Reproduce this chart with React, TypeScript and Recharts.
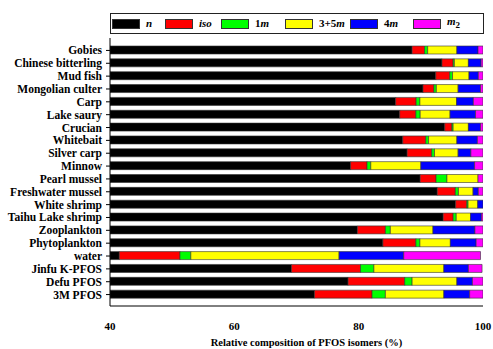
import React from "react";
import { BarChart, Bar, XAxis, YAxis } from "recharts";

const categories = [
  "Gobies", "Chinese bitterling", "Mud fish", "Mongolian culter", "Carp",
  "Lake saury", "Crucian", "Whitebait", "Silver carp", "Minnow",
  "Pearl mussel", "Freshwater mussel", "White shrimp", "Taihu Lake shrimp",
  "Zooplankton", "Phytoplankton", "water", "Jinfu K-PFOS", "Defu PFOS", "3M PFOS",
];
const nVals = [88.6, 93.4, 92.4, 90.35, 85.95, 86.6, 93.85, 87.1, 87.8, 78.7, 89.9, 92.65, 95.6, 93.6, 79.8, 83.9, 41.5, 69.2, 78.3, 72.9];
const isoVals = [2.0, 1.8, 2.25, 1.75, 3.3, 2.6, 1.15, 3.7, 3.95, 2.65, 2.55, 2.9, 1.8, 1.6, 4.5, 5.3, 9.75, 11.1, 9.1, 9.25];
const m1Vals = [0.5, 0.2, 0.45, 0.4, 0.6, 0.7, 0.2, 0.45, 0.45, 0.6, 1.75, 0.5, 0.2, 0.5, 0.8, 0.65, 1.75, 2.15, 1.2, 2.15];
const m35Vals = [4.7, 2.25, 2.65, 3.5, 5.9, 4.8, 2.45, 4.55, 3.8, 8.05, 5.0, 2.35, 1.55, 2.3, 6.85, 4.9, 23.85, 11.25, 7.2, 9.4];
const m4Vals = [3.4, 2.05, 1.5, 3.6, 2.7, 4.1, 1.95, 3.3, 2.05, 8.65, 0, 0.85, 0.85, 1.75, 6.75, 4.15, 10.4, 3.95, 2.5, 4.15];
const m2Vals = [0.8, 0.3, 0.75, 0.4, 1.55, 1.2, 0.4, 0.9, 1.95, 1.35, 0.8, 0.75, 0, 0.25, 1.3, 1.1, 12.35, 2.2, 1.7, 2.15];
const xTicks = [40, 60, 80, 100];

const data = categories.map((name, i) => ({
  name,
  n: nVals[i],
  iso: isoVals[i],
  m1: m1Vals[i],
  m35: m35Vals[i],
  m4: m4Vals[i],
  m2: m2Vals[i],
}));

const series = [
  { key: "n", color: "#000000" },
  { key: "iso", color: "#ff0000" },
  { key: "m1", color: "#00ff00" },
  { key: "m35", color: "#ffff00" },
  { key: "m4", color: "#0000ff" },
  { key: "m2", color: "#ff00ff" },
];

const font = "'Liberation Serif', 'Times New Roman', serif";

const Swatch = ({ color }: { color: string }) => (
  <span
    style={{
      display: "inline-block",
      width: 26,
      height: 8,
      background: color,
      border: "1px solid #333",
      marginRight: 6,
      verticalAlign: "middle",
    }}
  />
);

const legendItems: Array<{ color: string; label: React.ReactNode; width: number }> = [
  { color: "#000000", label: <i>n</i>, width: 53 },
  { color: "#ff0000", label: <i>iso</i>, width: 56 },
  { color: "#00ff00", label: <span>1<i>m</i></span>, width: 64 },
  { color: "#ffff00", label: <span>3+5<i>m</i></span>, width: 65 },
  { color: "#0000ff", label: <span>4<i>m</i></span>, width: 63 },
  { color: "#ff00ff", label: <span><i>m</i><sub style={{ fontSize: 9 }}>2</sub></span>, width: 50 },
];

const LegendBox = () => (
  <div
    style={{
      position: "absolute",
      left: 110,
      top: 13,
      width: 371,
      height: 19,
      border: "1px solid #222",
      fontFamily: font,
      fontWeight: "bold",
      fontSize: 11,
      display: "flex",
      alignItems: "center",
      paddingLeft: 1,
      boxSizing: "content-box",
      lineHeight: "11px",
    }}
  >
    {legendItems.map((it, i) => (
      <span key={i} style={{ display: "inline-flex", alignItems: "center", width: it.width }}>
        <Swatch color={it.color} />
        {it.label}
      </span>
    ))}
  </div>
);

// single-line category labels (default tick wraps long names)
const CategoryTick = (props: any) => {
  const { x, y, payload } = props;
  return (
    <text
      x={x - 2}
      y={y}
      dy={4}
      textAnchor="end"
      fontFamily={font}
      fontWeight="bold"
      fontSize={11.5}
      fill="#000"
    >
      {payload.value}
    </text>
  );
};

export default function App() {
  return (
    <div style={{ position: "absolute", left: 0, top: 0, width: 493, height: 349, background: "#fff" }}>
      <BarChart
        width={493}
        height={349}
        data={data}
        layout="vertical"
        margin={{ top: 38, right: 10, bottom: 3, left: 0 }}
        barCategoryGap={0}
      >
        <XAxis
          type="number"
          domain={[40, 100]}
          ticks={xTicks}
          allowDataOverflow
          height={40}
          axisLine={{ stroke: "#000", strokeWidth: 1 }}
          tickLine={false}
          tick={{ fontFamily: font, fontWeight: "bold", fontSize: 11, fill: "#000" }}
          tickMargin={10}
          label={{
            value: "Relative composition of PFOS isomers (%)",
            position: "insideBottom",
            offset: 0,
            dx: 10,
            style: { fontFamily: font, fontWeight: "bold", fontSize: 10.5, fill: "#000" },
          }}
        />
        <XAxis
          xAxisId="top"
          orientation="top"
          type="number"
          domain={[40, 100]}
          height={0}
          tick={false}
          tickLine={false}
          axisLine={{ stroke: "#000", strokeWidth: 1 }}
        />
        <YAxis
          type="category"
          dataKey="name"
          width={110}
          interval={0}
          padding={{ top: 6, bottom: 5 }}
          axisLine={{ stroke: "#000", strokeWidth: 1 }}
          tickLine={{ stroke: "#000" }}
          tickSize={4}
          tick={<CategoryTick />}
        />
        <YAxis
          yAxisId="right"
          orientation="right"
          type="category"
          dataKey="name"
          width={0}
          tick={false}
          tickLine={false}
          axisLine={{ stroke: "#000", strokeWidth: 1 }}
        />
        {series.map((s) => (
          <Bar
            key={s.key}
            dataKey={s.key}
            stackId="a"
            fill={s.color}
            stroke="#333"
            strokeWidth={0.6}
            barSize={8}
            isAnimationActive={false}
          />
        ))}
      </BarChart>
      <LegendBox />
    </div>
  );
}
